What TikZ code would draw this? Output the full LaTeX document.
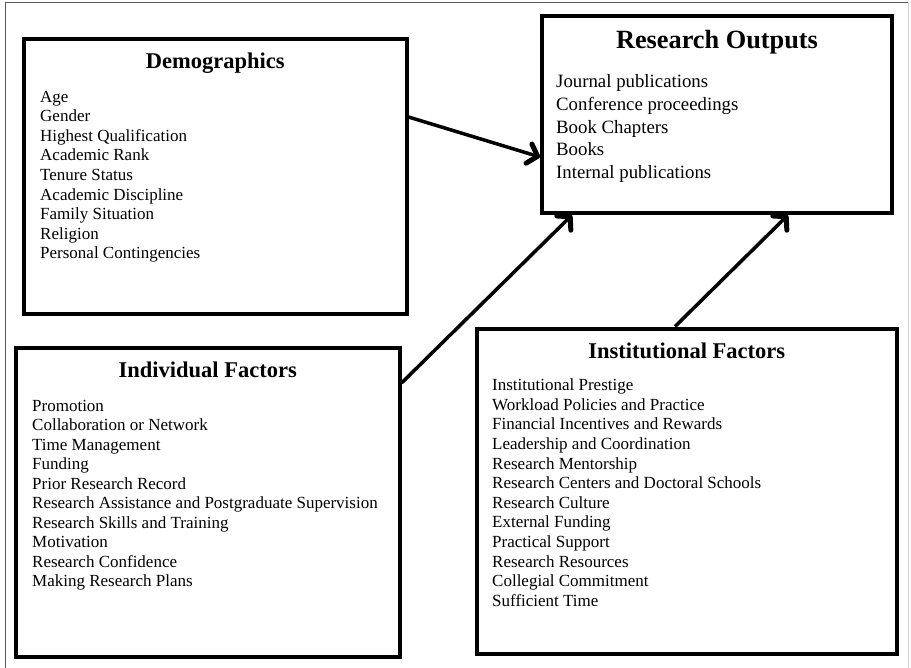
\documentclass[tikz,border=0pt]{standalone}
\usepackage{fontspec}
\setmainfont{Liberation Serif}
\usetikzlibrary{arrows.meta}

\begin{document}
\begin{tikzpicture}[x=1bp,y=-1bp,
  panel/.style={draw=black, line width=4bp, rectangle, inner sep=0pt},
  heading/.style={font=\fontsize{22.5bp}{27bp}\selectfont\bfseries, anchor=base, inner sep=0pt},
  bigheading/.style={heading, font=\fontsize{26.3bp}{31bp}\selectfont\bfseries},
  item/.style={font=\fontsize{17bp}{19.5bp}\selectfont, anchor=base west, inner sep=0pt},
  bigitem/.style={item, font=\fontsize{18.8bp}{22.6bp}\selectfont},
  flow/.style={line width=3.5bp, -{Straight Barb[length=9bp,width=20bp,line width=5bp,round]}},
  frameline/.style={line width=1.5bp}]
\useasboundingbox (0,0) rectangle (911,668);

% outer frame
\draw[frameline, draw=black!65] (5.7,668) -- (5.7,2.3) -- (908.5,2.3);
\draw[frameline, draw=black!18] (908.5,2.3) -- (908.5,668);

% the four panels
\node[panel, minimum width=382.5bp, minimum height=274.5bp] (demo)  at (215.25,176.75) {};
\node[panel, minimum width=350bp,   minimum height=196.5bp] (res)   at (717,114.75) {};
\node[panel, minimum width=383.5bp, minimum height=309bp]   (indiv) at (207.75,502) {};
\node[panel, minimum width=419.5bp, minimum height=325.5bp] (inst)  at (686.75,491.25) {};

% headings
\node[heading]    (demo-title)  at (215.25,69)  {Demographics};
\node[bigheading] (res-title)   at (717,48.3)   {Research Outputs};
\node[heading]    (indiv-title) at (207.75,377) {Individual Factors};
\node[heading]    (inst-title)  at (686.75,358.3) {Institutional Factors};

% item lists
\foreach \t [count=\i from 0] in {Age, Gender, Highest Qualification, Academic Rank,
    Tenure Status, Academic Discipline, Family Situation, Religion, Personal Contingencies}
  \node[item] (demo-\i) at (40,102.5+19.5*\i) {\t};

\foreach \t [count=\i from 0] in {Journal publications, Conference proceedings,
    Book Chapters, Books, Internal publications}
  \node[bigitem] (res-\i) at (556,88+22.6*\i) {\t};

\foreach \t [count=\i from 0] in {Promotion, Collaboration or Network, Time Management,
    Funding, Prior Research Record, Research Assistance and Postgraduate Supervision,
    Research Skills and Training, Motivation, Research Confidence, Making Research Plans}
  \node[item] (indiv-\i) at (32,411+19.5*\i) {\t};

\foreach \t [count=\i from 0] in {Institutional Prestige, Workload Policies and Practice,
    Financial Incentives and Rewards, Leadership and Coordination, Research Mentorship,
    Research Centers and Doctoral Schools, Research Culture, External Funding,
    Practical Support, Research Resources, Collegial Commitment, Sufficient Time}
  \node[item] (inst-\i) at (492,390.7+19.6*\i) {\t};

% influences on research outputs
\draw[flow] ([yshift=59.75bp]demo.east) -- ([yshift=-42.25bp]res.west);
\draw[flow] ([yshift=119bp]indiv.east) -- ([xshift=-145bp]res.south);
\draw[flow] ([xshift=-11.75bp]inst.north) -- ([xshift=71bp]res.south);
\end{tikzpicture}
\end{document}
